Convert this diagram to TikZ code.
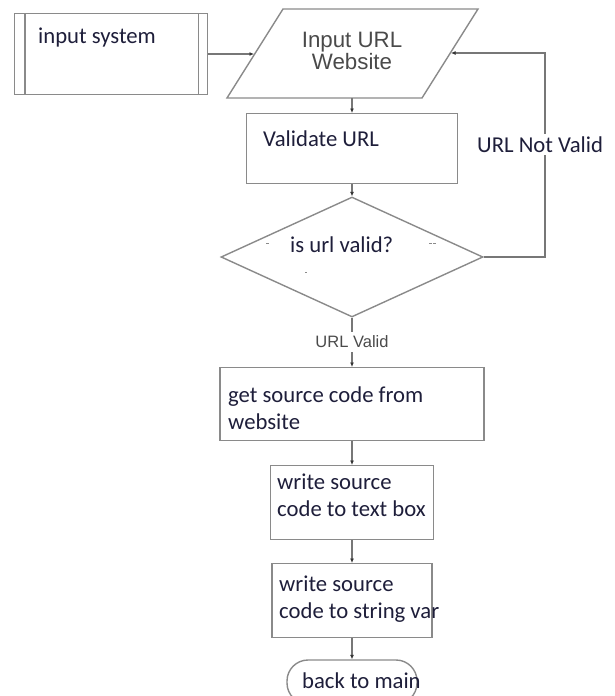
\documentclass[tikz,border=0pt]{standalone}
\usepackage{fontspec}
\setmainfont{Carlito}
\newfontfamily\arialfont{Liberation Sans}
\usetikzlibrary{shapes.geometric,arrows.meta}
\definecolor{edge}{HTML}{8A8A8A}
\definecolor{wire}{HTML}{777777}
\definecolor{tip}{HTML}{333333}
\definecolor{ink}{HTML}{1E1E3A}
\definecolor{grayink}{HTML}{4A4A4A}
\begin{document}
\begin{tikzpicture}[x=1pt,y=-1pt,
  shapeline/.style={draw=edge, line width=1.4pt},
  procbox/.style={shapeline, rectangle, inner sep=0pt, anchor=north},
  lbl/.style={text=ink, font=\fontsize{22.7}{27}\selectfont, inner sep=0pt, anchor=base west, align=left},
  flow/.style={draw=wire, line width=1.1pt, -{Latex[length=4.5pt,width=4pt,color=tip]}},
  plain/.style={draw=wire, line width=1.1pt},
]
\useasboundingbox (0,0) rectangle (615,696);

% subroutine box with double side bars
\node[procbox, anchor=north west, minimum width=193pt, minimum height=81pt] (insys) at (14,13) {};
\draw[shapeline] ([xshift=11pt]insys.north west) -- ([xshift=11pt]insys.south west);
\draw[shapeline] ([xshift=-10pt]insys.north east) -- ([xshift=-10pt]insys.south east);
\node[lbl] (insystxt) at (38,43) {input system};

% input parallelogram (base anchor of a two-line node sits on its last line)
\draw[shapeline] (227,98) -- (422,98) -- (478,9) -- (283,9) -- cycle;
\coordinate (urlin) at (254,54);
\coordinate (urlback) at (451,53);
\coordinate (urlbottom) at (352,98);
\node[text=grayink, font=\arialfont\fontsize{22.3}{19.5}\selectfont, inner sep=0pt, align=center, anchor=base] (inurl) at (352,69) {Input URL\\Website};

% process boxes
\node[procbox, minimum width=211pt, minimum height=70pt] (validate) at (352,113) {};
\node[lbl] (validatetxt) at (263,146) {Validate URL};

\node[shapeline, diamond, minimum width=262pt, minimum height=120pt, inner sep=0pt] (valid) at (352,257) {};
\node[lbl] (validtxt) at (290,252) {is url valid?};
\fill[edge] (266,243) rectangle (269,244.3);
\fill[edge] (429,243) rectangle (431.5,244.3);
\fill[edge] (433,243) rectangle (435.5,244.3);
\fill[edge] (304.5,271.5) rectangle (306.5,273);

\node[procbox, minimum width=264pt, minimum height=73pt] (getsrc) at (352,367) {};
\node[lbl] (getsrctxt) at (228,429) {get source code from\\website};

\node[procbox, minimum width=163pt, minimum height=74pt] (writebox) at (352,465) {};
\node[lbl] (writeboxtxt) at (277,516) {write source\\code to text box};

\node[procbox, minimum width=160pt, minimum height=74pt] (writevar) at (352,563) {};
\node[lbl] (writevartxt) at (279,618) {write source\\code to string var};

\node[shapeline, rectangle, rounded corners=21pt, minimum width=130pt, minimum height=44pt, inner sep=0pt] (back) at (352,682) {};
\node[lbl] (backtxt) at (302,688) {back to main};

% branch labels, the connectors stop short of them
\node[lbl, inner ysep=2.5pt, anchor=base west] (notvalid) at (477,152) {URL Not Valid};
\node[text=grayink, font=\arialfont\fontsize{16.5}{18}\selectfont, inner xsep=1pt, inner ysep=4pt] (validlbl) at (352,342) {URL Valid};
\coordinate (loopcorner) at (545,257);

% connectors
\draw[flow] (insys.east |- urlin) -- (urlin);
\draw[flow] (urlbottom) -- (validate.north);
\draw[flow] (validate.south) -- (valid.north);
\draw[plain] (valid.east) -- (loopcorner) -- (loopcorner |- notvalid.south);
\draw[flow] (loopcorner |- notvalid.north) |- (urlback);
\draw[plain] (valid.south) -- (validlbl.north);
\draw[flow] (validlbl.south) -- (getsrc.north);
\draw[flow] (getsrc.south) -- (writebox.north);
\draw[flow] (writebox.south) -- (writevar.north);
\draw[flow] (writevar.south) -- (back.north);
\end{tikzpicture}
\end{document}
